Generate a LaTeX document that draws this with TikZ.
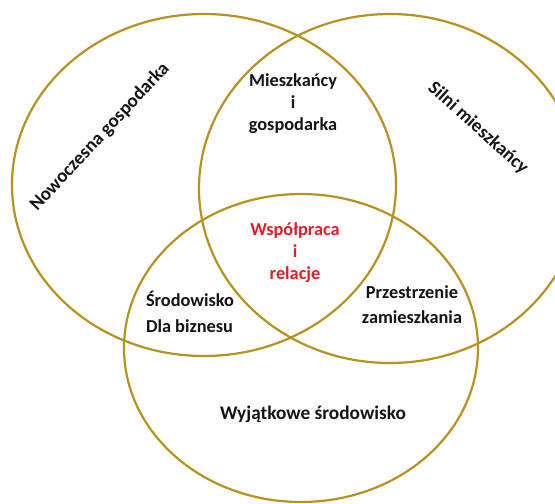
\documentclass[tikz,border=0pt]{standalone}
\usepackage{fontspec}
\setmainfont{Carlito}
\definecolor{gold}{RGB}{184,146,30}
\definecolor{lbl}{RGB}{20,20,20}
\definecolor{redlbl}{RGB}{225,30,40}
\begin{document}
\begin{tikzpicture}[x=1pt,y=-1pt,
  ring/.style={draw=gold,line width=2.2pt},
  lab/.style={font=\fontsize{18.3}{22}\selectfont\bfseries,text=lbl,align=center,inner sep=0pt}]
\useasboundingbox (0,0) rectangle (555,504);
\clip (0,0) rectangle (555,504);
\draw[ring] (204,185) ellipse [x radius=192, y radius=171];
\draw[ring] (390,188.5) ellipse [x radius=191, y radius=174.5];
\draw[ring] (301,348) ellipse [x radius=177, y radius=154];
\node[lab,rotate=47,font=\fontsize{19}{22}\selectfont\bfseries] (nowo) at (100,137) {Nowoczesna gospodarka};
\node[lab,rotate=-42,font=\fontsize{19}{22}\selectfont\bfseries] (silni) at (478,128) {Silni mieszkańcy};
\node[lab] (miesz) at (293,104) {Mieszkańcy\\i\\gospodarka};
\node[lab,text=redlbl] (wspol) at (295,253) {Współpraca\\i\\relacje};
\node[lab,align=left,font=\fontsize{18.3}{26}\selectfont\bfseries] (srod) at (190,312) {Środowisko\\Dla biznesu};
\node[lab,font=\fontsize{18.3}{25}\selectfont\bfseries] (przes) at (412,305) {Przestrzenie\\zamieszkania};
\node[lab,font=\fontsize{19.3}{22}\selectfont\bfseries] (wyj) at (313,414) {Wyjątkowe środowisko};
\end{tikzpicture}
\end{document}
